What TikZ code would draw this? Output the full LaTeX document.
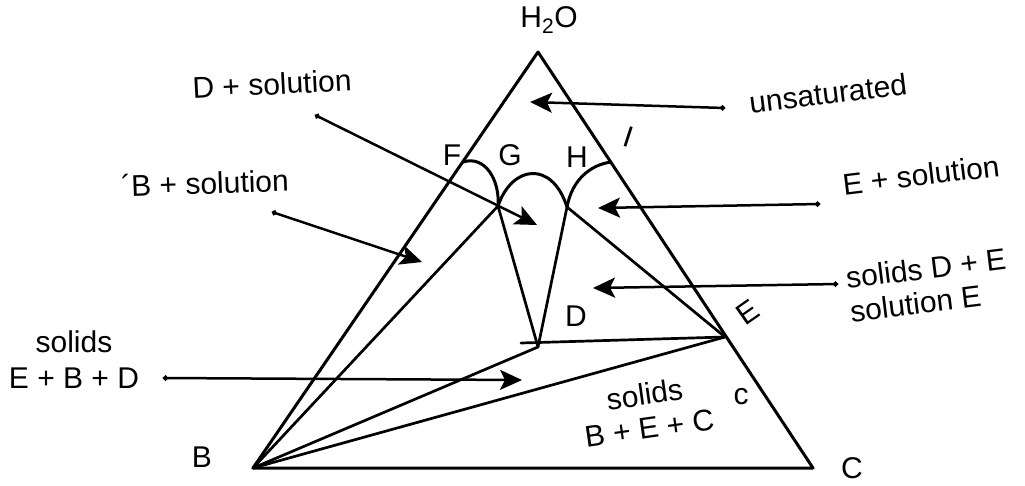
\documentclass[tikz,border=0pt]{standalone}
\usepackage{fontspec}
\setmainfont{Liberation Sans}
\usetikzlibrary{arrows.meta}
\begin{document}
\begin{tikzpicture}[x=1pt,y=-1pt,
  edge/.style={line width=3pt, line join=round, line cap=round},
  inner/.style={line width=2.7pt, line cap=round},
  pointer/.style={line width=2.5pt, {Circle[length=5pt]}-{Stealth[length=22pt,width=20pt,inset=5pt]}},
  lbl/.style={font=\fontsize{30}{34}\selectfont, inner sep=0pt},
]
\useasboundingbox (0,0) rectangle (1025,485);
% points
\coordinate (A) at (538,52);
\coordinate (B) at (253,468);
\coordinate (C) at (813,468);
\coordinate (E) at (725,337);
\coordinate (D) at (538,347);
\coordinate (Ds) at (521,343);
\coordinate (J1) at (498,206);
\coordinate (J2) at (567,207);
\coordinate (F0) at (463,162);
\coordinate (H1) at (611,162);
% triangle
\draw[edge] (A) -- (B) -- (C) -- cycle;
% tie lines
\draw[inner] (B) -- (J1);
\draw[inner] (B) -- (D);
\draw[inner] (B) -- (E);
\draw[inner] (Ds) -- (E);
\draw[inner] (J2) -- (E);
\draw[inner] (J1) -- (D);
\draw[inner] (J2) -- (D);
% curves
\draw[edge] (F0) .. controls (485,155) and (500,180) .. (J1);
\draw[edge] (J1) .. controls (512,165) and (552,160) .. (J2);
\draw[edge] (J2) .. controls (572,180) and (590,165) .. (H1);
% arrow endpoints
\coordinate (u0) at (725,108); \coordinate (u1) at (530,102);
\coordinate (d0) at (315,115); \coordinate (d1) at (537,225);
\coordinate (b0) at (272,212); \coordinate (b1) at (422,262);
\coordinate (e0) at (820,204); \coordinate (e1) at (598,208);
\coordinate (s0) at (838,284); \coordinate (s1) at (593,288);
\coordinate (t0) at (163,378); \coordinate (t1) at (522,380);
\draw[pointer] (u0) -- (u1);
\draw[pointer] (d0) -- (d1);
\draw[pointer] (b0) -- (b1);
\draw[pointer] (e0) -- (e1);
\draw[pointer] (s0) -- (s1);
\draw[pointer] (t0) -- (t1);
% labels
\node[lbl] (lH2O) at (549,20) {H\textsubscript{2}O};
\node[lbl] (lF) at (452,155) {F};
\node[lbl] (lG) at (510,155) {G};
\node[lbl] (lH) at (577,157) {H};
\node[lbl, rotate=-18] (lI) at (629,137) {I};
\node[lbl] (lD) at (576,316) {D};
\node[lbl, rotate=35] (lE) at (748,312) {E};
\node[lbl] (lB) at (202,457) {B};
\node[lbl] (lC) at (852,468) {C};
\node[lbl, rotate=7] (lunsat) at (828,93) {unsaturated};
\node[lbl, rotate=3] (lDsol) at (272,84) {D + solution};
\node[lbl, rotate=2] (lBsol) at (205,183) {´B + solution};
\node[lbl, rotate=7] (lEsol) at (921,175) {E + solution};
\node[lbl, rotate=7, align=left] (lsDE) at (928,285) {solids D + E\\solution E};
\node[lbl, align=center, font=\fontsize{30}{36}\selectfont] (lEBD) at (74,360) {solids\\E + B + D};
\node[lbl, rotate=8, align=center] (lBEC) at (647,411) {solids\\B + E + C};
\node[lbl] (lc) at (741,397) {c};
\end{tikzpicture}
\end{document}
